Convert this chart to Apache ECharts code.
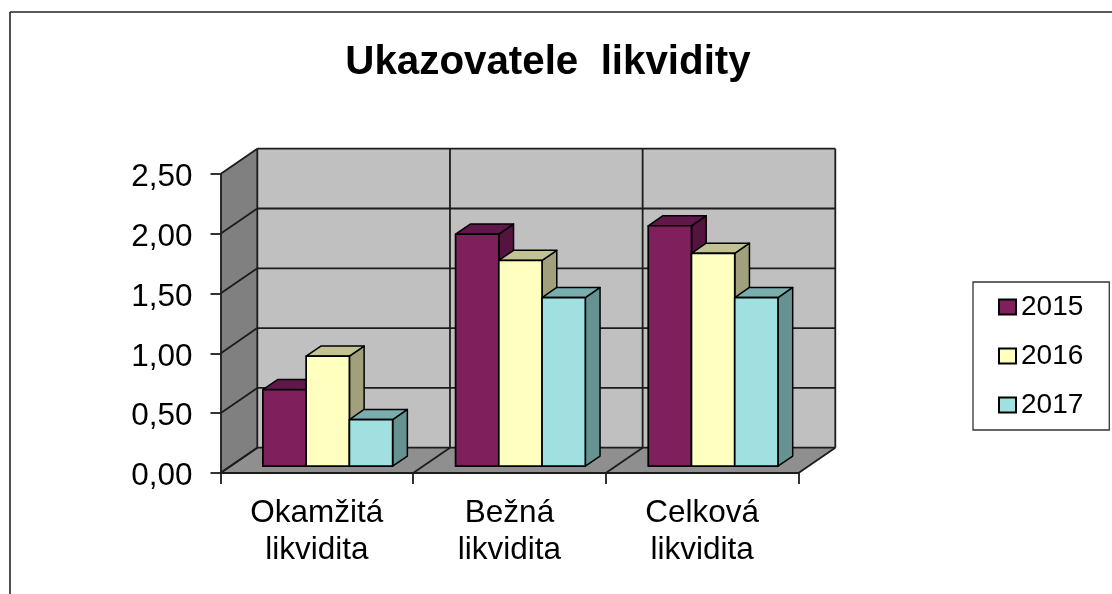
<!DOCTYPE html>
<html><head><meta charset="utf-8">
<style>html,body{margin:0;padding:0;background:#fff}#c{width:1112px;height:594px}</style>
<script src="https://cdn.jsdelivr.net/npm/echarts@6/dist/echarts.min.js"></script>
</head><body><div id="c"></div>
<script>
const categories = ['Okamžitá\nlikvidita', 'Bežná\nlikvidita', 'Celková\nlikvidita'];
const seriesNames = ['2015', '2016', '2017'];
const values2015 = [0.64, 1.94, 2.01];
const values2016 = [0.92, 1.72, 1.78];
const values2017 = [0.39, 1.41, 1.41];
const allValues = [values2015, values2016, values2017];
const yTicks = [0, 0.5, 1, 1.5, 2, 2.5];
const frontColors = ['#7F1F5C', '#FFFFC0', '#A0E0E0'];
const topColors = ['#60174A', '#C2C292', '#7AAEAE'];
const sideColors = ['#551340', '#A0A07C', '#669292'];

const DX = 36.8, DY = -25.3;          // chart depth projection
const BAR_Z0 = 0.27, BAR_Z1 = 0.67;   // bar depth inside the chart
const BAR_W = 0.2245;                 // bar width as share of category
const BAR_SHIFT = 1.0;                // sideways nudge of the bar cluster
const LINE = '#1c1c1c';
const FONT = '"Liberation Sans", Arial, sans-serif';

const proj = (p, z) => [p[0] + DX * z, p[1] + DY * z];
const poly = (pts, fill, stroke, lw) => ({
  type: 'polygon', shape: { points: pts },
  style: { fill: fill, stroke: stroke || null, lineWidth: lw || 0, lineJoin: 'round' }
});
const seg = (a, b, lw) => ({
  type: 'line', shape: { x1: a[0], y1: a[1], x2: b[0], y2: b[1] },
  style: { stroke: LINE, lineWidth: lw || 1.8, fill: null }
});

function renderWalls(params, api) {
  const cw = api.size([1, 0])[0];
  const c0 = api.coord([0, 0]), cT = api.coord([0, yTicks[yTicks.length - 1]]);
  const left = c0[0] - cw / 2, right = left + cw * categories.length;
  const y0 = c0[1], yT = cT[1];
  const ch = [];
  ch.push(poly([[left, y0], proj([left, y0], 1), proj([left, yT], 1), [left, yT]], '#808080', null, 0));
  ch.push(poly([proj([left, y0], 1), proj([right, y0], 1), proj([right, yT], 1), proj([left, yT], 1)], '#C0C0C0', null, 0));
  ch.push(poly([[left, y0], [right, y0], proj([right, y0], 1), proj([left, y0], 1)], '#8F8F8F', null, 0));
  yTicks.forEach(v => {
    const y = api.coord([0, v])[1];
    ch.push(seg([left, y], proj([left, y], 1)));
    ch.push(seg(proj([left, y], 1), proj([right, y], 1)));
  });
  for (let i = 0; i <= categories.length; i++) {
    const x = left + cw * i;
    ch.push(seg([x, y0], proj([x, y0], 1)));
    ch.push(seg(proj([x, y0], 1), proj([x, yT], 1)));
  }
  return { type: 'group', children: ch };
}

function barRenderer(s) {
  return function (params, api) {
    const cat = api.value(0), val = api.value(1);
    const c = api.coord([cat, val]), b = api.coord([cat, 0]);
    const w = api.size([1, 0])[0] * BAR_W;
    const xl = c[0] + BAR_SHIFT + (s - seriesNames.length / 2) * w, xr = xl + w;
    const fTL = proj([xl, c[1]], BAR_Z0), fTR = proj([xr, c[1]], BAR_Z0);
    const fBL = proj([xl, b[1]], BAR_Z0), fBR = proj([xr, b[1]], BAR_Z0);
    const bTL = proj([xl, c[1]], BAR_Z1), bTR = proj([xr, c[1]], BAR_Z1);
    const bBR = proj([xr, b[1]], BAR_Z1);
    return { type: 'group', children: [
      poly([fBR, bBR, bTR, fTR], sideColors[s], '#000', 1.5),
      poly([fTL, fTR, bTR, bTL], topColors[s], '#000', 1.5),
      poly([fBL, fBR, fTR, fTL], frontColors[s], '#000', 1.7)
    ] };
  };
}

const series = [{
  type: 'custom', name: 'walls', silent: true, z: 1,
  renderItem: renderWalls, data: [[0, 0]], encode: { x: 0, y: 1 }
}];
seriesNames.forEach((n, s) => series.push({
  type: 'custom', name: n, z: 2 + s,
  itemStyle: { color: frontColors[s], borderColor: '#000', borderWidth: 1.7 },
  renderItem: barRenderer(s),
  data: categories.map((c, i) => [i, allValues[s][i]]),
  encode: { x: 0, y: 1 }
}));

const chart = echarts.init(document.getElementById('c'), null, { renderer: 'canvas' });
chart.setOption({
  animation: false,
  backgroundColor: '#fff',
  textStyle: { fontFamily: FONT },
  title: {
    text: 'Ukazovatele  likvidity', left: 543, top: 38, textAlign: 'center',
    textStyle: { fontSize: 40.3, fontWeight: 'bold', color: '#000', fontFamily: FONT }
  },
  grid: { left: 220.5, top: 174, width: 578, height: 299 },
  legend: {
    orient: 'vertical', left: 973, top: 282,
    padding: [9, 26, 9, 25],
    data: seriesNames, icon: 'rect', itemWidth: 17, itemHeight: 15, itemGap: 17,
    borderColor: '#333', borderWidth: 1.3, backgroundColor: '#fff',
    textStyle: { fontSize: 28, lineHeight: 32, color: '#000', padding: [0, 0, 0, 0], fontFamily: FONT }
  },
  xAxis: {
    type: 'category', data: categories, z: 6,
    axisLine: { lineStyle: { color: LINE, width: 1.8 } },
    axisTick: { show: true, length: 11, alignWithLabel: false, lineStyle: { color: LINE, width: 1.8 } },
    axisLabel: { color: '#000', fontSize: 31.5, lineHeight: 37, margin: 22, interval: 0, fontFamily: FONT },
    splitLine: { show: false }
  },
  yAxis: {
    type: 'value', min: 0, max: 2.5, interval: 0.5, z: 6,
    axisLine: { show: true, lineStyle: { color: LINE, width: 1.8 } },
    axisTick: { show: true, length: 10, lineStyle: { color: LINE, width: 1.8 } },
    axisLabel: { color: '#000', fontSize: 31.5, margin: 28, verticalAlign: 'top', lineHeight: 7, formatter: v => v.toFixed(2).replace('.', ','), fontFamily: FONT },
    splitLine: { show: false }
  },
  graphic: [
    { type: 'line', silent: true, shape: { x1: 10, y1: 12, x2: 1112, y2: 12 }, style: { stroke: '#222', lineWidth: 1.6 } },
    { type: 'line', silent: true, shape: { x1: 10, y1: 12, x2: 10, y2: 594 }, style: { stroke: '#222', lineWidth: 1.6 } }
  ],
  series: series
});
</script></body></html>
